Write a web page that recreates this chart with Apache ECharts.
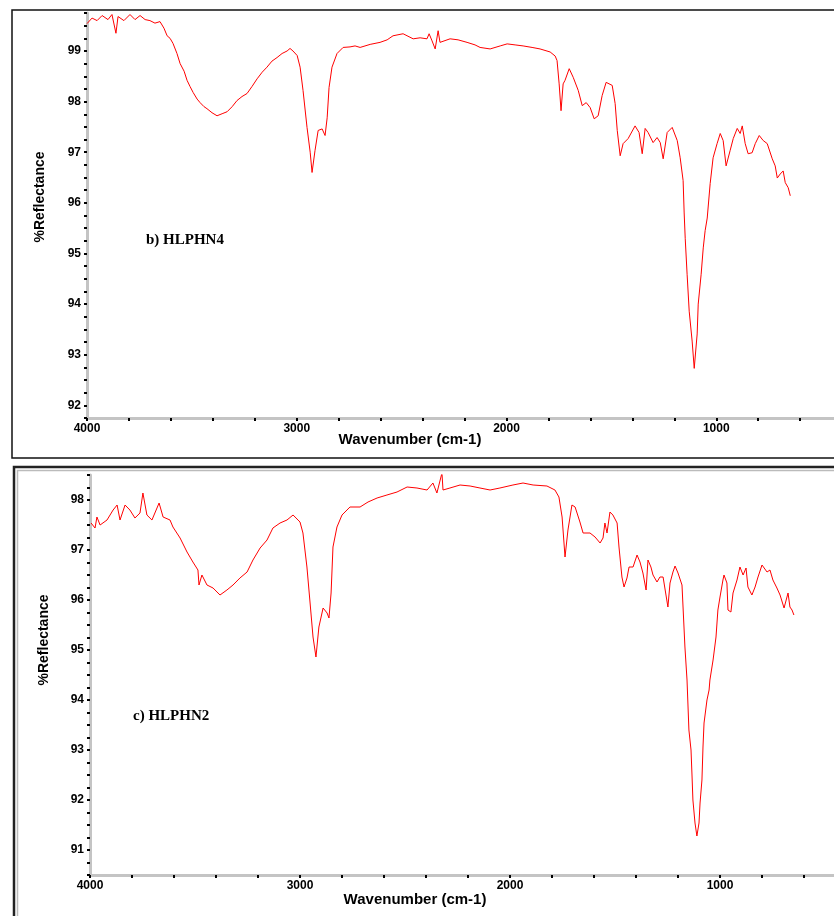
<!DOCTYPE html>
<html>
<head>
<meta charset="utf-8">
<script src="https://cdn.jsdelivr.net/npm/echarts@6/dist/echarts.min.js"></script>
<style>
  html, body { margin: 0; padding: 0; background: #fff; }
  #main { width: 834px; height: 916px; }
</style>
</head>
<body>
<div id="main"></div>
<script>
// b) HLPHN4
const wnB = [4000, 3976, 3952, 3928, 3900, 3881, 3862, 3852, 3824, 3795, 3771, 3747, 3723, 3700, 3676, 3652, 3633, 3618, 3604, 3590,
  3571, 3556, 3537, 3523, 3509, 3494, 3475, 3461, 3442, 3428, 3404, 3380, 3356, 3332, 3308, 3285, 3261, 3237, 3213, 3189,
  3165, 3142, 3118, 3094, 3070, 3046, 3032, 3018, 2998, 2984, 2970, 2951, 2936, 2927, 2913, 2898, 2879, 2865, 2855, 2846,
  2832, 2808, 2779, 2746, 2722, 2698, 2650, 2603, 2569, 2541, 2493, 2445, 2412, 2379, 2369, 2355, 2340, 2326, 2317, 2269,
  2231, 2188, 2150, 2126, 2078, 2030, 1997, 1959, 1921, 1878, 1840, 1792, 1768, 1759, 1749, 1740, 1730, 1721, 1701, 1682,
  1658, 1639, 1620, 1601, 1582, 1563, 1544, 1525, 1496, 1482, 1472, 1458, 1444, 1420, 1387, 1368, 1353, 1339, 1325, 1301,
  1282, 1267, 1253, 1234, 1210, 1186, 1172, 1158, 1153, 1148, 1139, 1129, 1115, 1105, 1091, 1086, 1072, 1062, 1053, 1043,
  1029, 1015, 996, 981, 967, 953, 934, 919, 900, 886, 876, 862, 848, 829, 814, 795, 776, 757, 733, 719,
  709, 695, 681, 671, 657, 647];
const refB = [99.54, 99.65, 99.6, 99.7, 99.62, 99.72, 99.35, 99.68, 99.6, 99.72, 99.62, 99.7, 99.62, 99.6, 99.55, 99.58, 99.45, 99.3, 99.25, 99.15,
  98.95, 98.75, 98.6, 98.42, 98.3, 98.18, 98.05, 97.98, 97.9, 97.86, 97.78, 97.72, 97.76, 97.8, 97.9, 98.02, 98.1, 98.16, 98.3, 98.45,
  98.58, 98.68, 98.8, 98.87, 98.95, 99.0, 99.05, 99.0, 98.91, 98.68, 98.22, 97.49, 97.0, 96.6, 97.03, 97.43, 97.46, 97.33, 97.68, 98.28,
  98.68, 98.95, 99.07, 99.08, 99.1, 99.07, 99.13, 99.17, 99.22, 99.3, 99.34, 99.24, 99.26, 99.24, 99.34, 99.2, 99.04, 99.4, 99.17, 99.24,
  99.22, 99.17, 99.12, 99.07, 99.04, 99.1, 99.14, 99.12, 99.1, 99.07, 99.04, 98.98, 98.9, 98.81, 98.35, 97.82, 98.35, 98.42, 98.65, 98.48,
  98.22, 97.92, 97.98, 97.88, 97.66, 97.72, 98.12, 98.38, 98.32, 97.96, 97.43, 96.93, 97.17, 97.27, 97.52, 97.39, 96.97, 97.47, 97.39, 97.19,
  97.29, 97.19, 96.87, 97.39, 97.49, 97.23, 96.89, 96.44, 95.8, 95.3, 94.59, 93.86, 93.27, 92.73, 93.41, 94.0, 94.59, 95.11, 95.45, 95.7,
  96.38, 96.89, 97.17, 97.37, 97.23, 96.73, 97.03, 97.27, 97.47, 97.37, 97.52, 97.17, 96.97, 96.99, 97.17, 97.33, 97.23, 97.17, 96.87, 96.73,
  96.49, 96.57, 96.63, 96.4, 96.3, 96.14];

// c) HLPHN2
const wnC = [3995, 3976, 3967, 3952, 3919, 3890, 3871, 3857, 3833, 3810, 3786, 3762, 3748, 3729, 3705, 3671, 3652, 3619, 3605, 3571,
  3538, 3510, 3486, 3481, 3467, 3443, 3414, 3381, 3348, 3319, 3286, 3252, 3224, 3190, 3157, 3129, 3095, 3062, 3033, 3000,
  2986, 2967, 2952, 2938, 2924, 2910, 2890, 2871, 2862, 2852, 2843, 2824, 2800, 2762, 2714, 2676, 2633, 2586, 2538, 2490,
  2443, 2395, 2367, 2348, 2324, 2319, 2286, 2238, 2190, 2143, 2095, 2048, 1986, 1938, 1890, 1824, 1786, 1767, 1752, 1738,
  1724, 1705, 1690, 1667, 1652, 1619, 1595, 1571, 1557, 1548, 1538, 1524, 1510, 1490, 1481, 1467, 1457, 1443, 1433, 1414,
  1395, 1381, 1367, 1352, 1343, 1329, 1319, 1300, 1286, 1271, 1248, 1238, 1224, 1214, 1200, 1181, 1176, 1167, 1157, 1148,
  1138, 1133, 1129, 1119, 1110, 1100, 1095, 1086, 1081, 1076, 1062, 1052, 1048, 1033, 1019, 1010, 1000, 986, 981, 967,
  962, 948, 938, 919, 905, 890, 876, 867, 848, 833, 819, 800, 795, 776, 762, 748, 729, 714, 695, 676,
  667, 657, 648];
const refC = [97.54, 97.44, 97.66, 97.5, 97.6, 97.8, 97.9, 97.6, 97.9, 97.8, 97.64, 97.74, 98.14, 97.7, 97.6, 97.94, 97.66, 97.6, 97.46, 97.24,
  96.96, 96.76, 96.6, 96.3, 96.5, 96.3, 96.24, 96.1, 96.2, 96.3, 96.44, 96.56, 96.8, 97.04, 97.2, 97.44, 97.54, 97.6, 97.7, 97.56,
  97.34, 96.66, 95.94, 95.26, 94.86, 95.46, 95.84, 95.74, 95.64, 96.14, 97.06, 97.46, 97.7, 97.86, 97.86, 97.96, 98.04, 98.1, 98.16, 98.26,
  98.24, 98.2, 98.34, 98.14, 98.54, 98.2, 98.24, 98.3, 98.28, 98.24, 98.2, 98.24, 98.3, 98.34, 98.3, 98.28, 98.2, 98.06, 97.66, 96.86,
  97.4, 97.9, 97.86, 97.56, 97.34, 97.34, 97.26, 97.14, 97.24, 97.54, 97.34, 97.76, 97.7, 97.54, 97.06, 96.46, 96.26, 96.44, 96.66, 96.66,
  96.9, 96.76, 96.54, 96.2, 96.8, 96.66, 96.5, 96.36, 96.46, 96.46, 95.86, 96.34, 96.56, 96.68, 96.54, 96.3, 95.86, 95.06, 94.4, 93.4,
  93.0, 92.46, 92.0, 91.54, 91.28, 91.54, 91.94, 92.4, 93.06, 93.54, 94.0, 94.2, 94.4, 94.8, 95.26, 95.8, 96.06, 96.4, 96.5, 96.34,
  95.8, 95.76, 96.14, 96.4, 96.66, 96.5, 96.64, 96.26, 96.1, 96.26, 96.46, 96.7, 96.74, 96.56, 96.6, 96.4, 96.24, 96.1, 95.84, 96.14,
  95.86, 95.8, 95.7];

const xTickLabels = [4000, 3000, 2000, 1000];
const panelLabels = ['b) HLPHN4', 'c) HLPHN2'];

const chart = echarts.init(document.getElementById('main'));
const axisFont = 'Liberation Sans, Arial, sans-serif';

function pairs(xs, ys) {
  return xs.map((x, i) => [x, ys[i]]);
}

function xAxisFor(gridIndex) {
  return {
    type: 'value', gridIndex: gridIndex, inverse: true,
    min: 0, max: 4000, interval: 200,
    axisLine: { onZero: false, lineStyle: { color: '#c4c4c4', width: 3 } },
    axisTick: { length: 3, lineStyle: { color: '#000', width: 2 } },
    axisLabel: {
      margin: 5, color: '#000', fontWeight: 'bold', fontSize: 12, fontFamily: axisFont,
      formatter: v => xTickLabels.indexOf(v) >= 0 ? String(v) : ''
    },
    splitLine: { show: false }
  };
}

function yAxisFor(gridIndex, min, max) {
  return {
    type: 'value', gridIndex: gridIndex, position: 'left',
    min: min, max: max, interval: 0.25,
    axisLine: { show: true, onZero: false, lineStyle: { color: '#c4c4c4', width: 3 } },
    axisTick: { length: 3, lineStyle: { color: '#000', width: 2 } },
    axisLabel: {
      margin: 6, color: '#000', fontWeight: 'bold', fontSize: 12, fontFamily: axisFont,
      formatter: v => Number.isInteger(v) ? String(v) : ''
    },
    splitLine: { show: false }
  };
}

const option = {
  animation: false,
  backgroundColor: '#fff',
  grid: [
    { left: 87, top: 13, width: 839, height: 405, outerBoundsMode: 'none', containLabel: false },
    { left: 90, top: 475, width: 840, height: 400, outerBoundsMode: 'none', containLabel: false }
  ],
  xAxis: [xAxisFor(0), xAxisFor(1)],
  yAxis: [yAxisFor(0, 91.75, 99.75), yAxisFor(1, 90.5, 98.5)],
  series: [
    {
      type: 'line', xAxisIndex: 0, yAxisIndex: 0, data: pairs(wnB, refB),
      showSymbol: false, lineStyle: { color: '#ff0000', width: 1 }, clip: true
    },
    {
      type: 'line', xAxisIndex: 1, yAxisIndex: 1, data: pairs(wnC, refC),
      showSymbol: false, lineStyle: { color: '#ff0000', width: 1 }, clip: true
    }
  ],
  graphic: [
    // panel frames
    { type: 'rect', shape: { x: 12, y: 10, width: 840, height: 448 }, style: { fill: 'none', stroke: '#111', lineWidth: 1.5 }, z: -1 },
    { type: 'rect', shape: { x: 14, y: 467, width: 840, height: 470 }, style: { fill: 'none', stroke: '#222', lineWidth: 2.5 }, z: -1 },
    { type: 'rect', shape: { x: 17.5, y: 470.5, width: 840, height: 470 }, style: { fill: 'none', stroke: '#bbb', lineWidth: 1.5 }, z: -1 },
    // axis titles
    { type: 'text', x: 410, y: 440, style: { text: 'Wavenumber (cm-1)', fill: '#000', font: 'bold 15px ' + axisFont, align: 'center', verticalAlign: 'middle' } },
    { type: 'text', x: 415, y: 900, style: { text: 'Wavenumber (cm-1)', fill: '#000', font: 'bold 15px ' + axisFont, align: 'center', verticalAlign: 'middle' } },
    { type: 'text', x: 40, y: 197, rotation: Math.PI / 2, style: { text: '%Reflectance', fill: '#000', font: 'bold 14px ' + axisFont, align: 'center', verticalAlign: 'middle' } },
    { type: 'text', x: 44, y: 640, rotation: Math.PI / 2, style: { text: '%Reflectance', fill: '#000', font: 'bold 14px ' + axisFont, align: 'center', verticalAlign: 'middle' } },
    // sample labels
    { type: 'text', x: 146, y: 240, style: { text: panelLabels[0], fill: '#000', font: 'bold 15px Liberation Serif, Times New Roman, serif', align: 'left', verticalAlign: 'middle' } },
    { type: 'text', x: 133, y: 716, style: { text: panelLabels[1], fill: '#000', font: 'bold 15px Liberation Serif, Times New Roman, serif', align: 'left', verticalAlign: 'middle' } }
  ]
};

chart.setOption(option);
</script>
</body>
</html>
